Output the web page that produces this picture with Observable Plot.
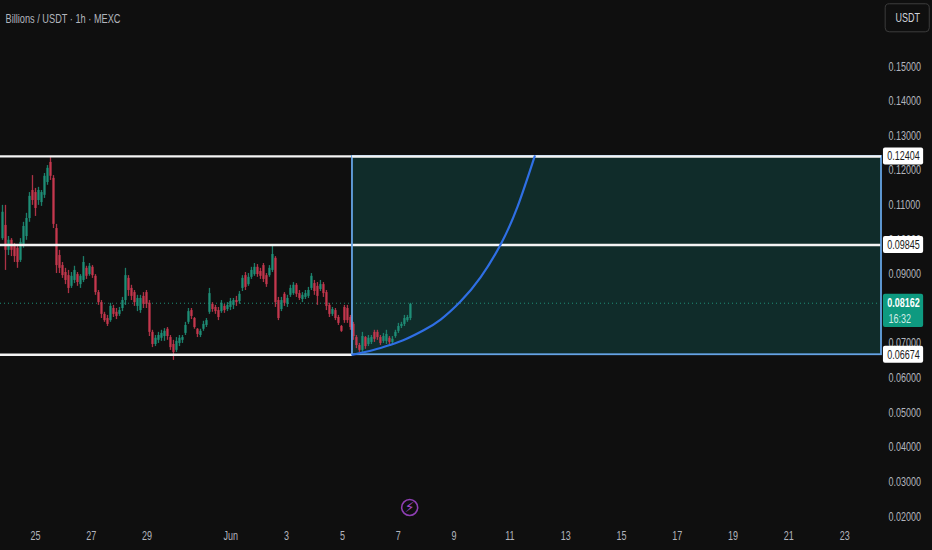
<!DOCTYPE html>
<html>
<head>
<meta charset="utf-8">
<script src="https://cdn.jsdelivr.net/npm/d3@7"></script>
<script src="https://cdn.jsdelivr.net/npm/@observablehq/plot@0.6"></script>
<style>
html,body{margin:0;padding:0;background:#0f0f0f;}
svg{display:block;}
</style>
</head>
<body>
<div id="chart"></div>
<script>
// hourly-ish candles, prices in units of 0.0001 USDT
const highsE4 = [1099,1099,1009,1003,989,983,1003,1050,1076,1136,1185,1148,1151,1142,1191,1214,1237,1185,1044,969,934,917,911,905,923,905,899,951,923,931,925,899,853,824,790,781,816,810,801,804,833,917,896,868,853,839,839,847,853,824,738,723,732,738,743,746,723,709,717,723,723,761,801,801,775,743,741,764,772,859,818,810,804,824,813,818,830,830,836,850,896,905,902,920,931,928,917,931,902,925,986,951,833,833,847,839,868,876,873,853,847,853,862,902,882,876,882,876,853,816,804,801,781,752,810,810,781,761,723,700,732,720,723,723,738,738,723,729,738,720,720,738,758,761,781,781,816];
const lowsE4 = [998,911,954,951,934,917,934,975,998,1050,1099,1067,1099,1096,1119,1157,1171,1032,902,902,888,870,844,859,873,865,859,876,885,894,888,839,810,772,761,749,761,775,769,778,792,810,836,824,807,792,787,801,801,720,688,691,700,706,706,709,680,651,674,691,700,723,755,769,741,717,717,735,746,784,790,784,766,787,787,792,795,798,807,813,850,853,865,885,894,891,885,876,862,891,905,804,766,792,807,804,833,839,833,824,818,827,830,853,839,810,850,833,795,775,778,766,752,732,758,758,738,709,685,674,674,683,691,697,703,709,694,700,697,697,697,715,729,743,749,761,766];
const opensE4 = [1003,1041,969,998,980,975,940,983,1009,1061,1142,1136,1113,1107,1128,1165,1223,1177,1032,954,925,905,896,865,882,899,870,882,917,899,920,894,847,818,784,772,766,801,790,784,801,824,888,859,847,807,795,836,847,816,732,697,709,715,720,741,717,697,680,700,709,729,761,795,772,741,723,741,752,790,813,804,795,792,807,798,804,810,824,821,859,896,870,891,899,920,908,925,896,896,911,946,824,798,842,813,839,844,868,844,827,833,836,859,873,865,856,870,847,810,784,795,775,749,804,801,775,755,717,694,680,717,697,703,732,732,717,706,706,715,703,720,735,749,755,766,772];
const closesE4 = [1079,969,998,969,951,934,992,1038,1061,1125,1113,1090,1142,1136,1183,1206,1183,1044,925,917,896,882,859,894,911,876,894,934,894,923,896,847,818,784,766,755,807,784,778,795,824,896,853,836,818,830,830,813,813,732,697,715,723,729,735,720,688,674,706,715,717,752,792,778,746,726,735,755,766,844,798,792,775,816,795,810,821,824,818,842,888,862,891,911,920,899,894,885,870,917,957,818,772,824,816,830,859,868,842,830,839,844,853,894,850,836,870,844,807,784,798,772,758,735,766,766,746,720,694,680,720,691,715,717,712,717,700,720,726,703,712,732,749,755,772,775,813];

const firstCandleDay = -1.183;      // days after 25 May
const candleStepDays = 0.1075;

// drawn price levels
const levels = [0.12404, 0.09845, 0.06674];
const levelLabels = ["0.12404", "0.09845", "0.06674"];
const lastPrice = 0.08162;
const lastPriceLabel = "0.08162";
const countdownLabel = "16:32";

// curved projection (days after 25 May, price)
const curveDays = [11.36, 12.11, 12.72, 13.26, 13.91, 14.52, 15.23, 15.95, 16.67, 17.28, 17.89];
const curvePrices = [0.06674, 0.0681, 0.0696, 0.0712, 0.0738, 0.0769, 0.0821, 0.0891, 0.0986, 0.1096, 0.12404];

// axes (0.08000 sits fully behind the last-price badge in the reference)
const yTicks = [0.02,0.03,0.04,0.05,0.06,0.07,0.09,0.10,0.11,0.12,0.13,0.14,0.15];
const xTickDays = [0,2,4,7,9,11,13,15,17,19,21,23,25,27,29];
const xTickLabels = ["25","27","29","Jun","3","5","7","9","11","13","15","17","19","21","23"];

const title = "Billions / USDT · 1h · MEXC";
const unitLabel = "USDT";

const base = Date.UTC(2025, 4, 25);
const day = d => new Date(base + d * 864e5);

const candles = highsE4.map((h, i) => ({
  t: day(firstCandleDay + i * candleStepDays),
  high: h / 1e4, low: lowsE4[i] / 1e4, open: opensE4[i] / 1e4, close: closesE4[i] / 1e4,
  up: closesE4[i] >= opensE4[i]
}));
const curve = curveDays.map((d, i) => ({t: day(d), p: curvePrices[i]}));

const UP = "#1f9079", DOWN = "#c8384f", TXT = "#b2b5bd", BLUE = "#65a3e4";
const boxStart = day(11.36), domainEnd = day(30.32);
const labelFont = "'Liberation Sans',sans-serif";
const tickX = new Map(xTickDays.map((d, i) => [+day(d), xTickLabels[i]]));

const chart = Plot.plot({
  width: 932, height: 550,
  marginTop: 0, marginLeft: 0, marginRight: 51, marginBottom: 34,
  style: {background: "#0f0f0f", fontFamily: labelFont, color: TXT, overflow: "visible"},
  x: {type: "utc", domain: [day(-1.2545), domainEnd]},
  y: {type: "linear", domain: [0.02, 0.16909]},
  marks: [
    // projection box
    Plot.rect([0], {x1: boxStart, x2: domainEnd, y1: levels[2], y2: levels[0], fill: "#102c2a"}),
    // last price dotted line
    Plot.ruleY([lastPrice], {stroke: "#1f8f78", strokeWidth: 1, strokeDasharray: "1,3"}),
    // candles
    Plot.ruleX(candles, {x: "t", y1: "low", y2: "high", stroke: d => d.up ? UP : DOWN, strokeWidth: 1.3, strokeOpacity: 0.85}),
    Plot.ruleX(candles, {x: "t", y1: "open", y2: "close", stroke: d => d.up ? UP : DOWN, strokeWidth: 2.4, strokeOpacity: 0.85}),
    // levels
    Plot.ruleY(levels.slice(0, 2), {stroke: "#f4f4f4", strokeWidth: 2.4}),
    Plot.ruleY([levels[2]], {x1: day(-1.2545), x2: boxStart, stroke: "#f4f4f4", strokeWidth: 2.4}),
    Plot.rect([0], {x1: boxStart, x2: domainEnd, y1: levels[2], y2: levels[0], fill: "none", stroke: BLUE, strokeWidth: 1.8}),
    Plot.ruleY([levels[0]], {x1: boxStart, x2: domainEnd, stroke: "#f4f4f4", strokeWidth: 2.4}),
    // projection curve
    Plot.line(curve, {x: "t", y: "p", stroke: "#2f6fe4", strokeWidth: 2.2, curve: "natural"}),
    // axes
    Plot.axisY({anchor: "right", ticks: yTicks, tickSize: 0, tickPadding: 7, tickFormat: d3.format(".5f"), fill: TXT, fontSize: 12.5, label: null}),
    Plot.axisX({ticks: xTickDays.map(day), tickSize: 0, tickPadding: 15, tickFormat: d => tickX.get(+d), fill: TXT, fontSize: 12.5, label: null}),
    // level badges
    Plot.rect(levels, {x1: day(30.39), x2: day(31.83), y1: d => d - 0.00245, y2: d => d + 0.00245, fill: "#ffffff", rx: 2}),
    Plot.text(levels, {x: day(31.11), y: d => d, text: (d, i) => levelLabels[i], fill: "#1a1a1a", fontSize: 12.5}),
    // last price badge
    Plot.rect([0], {x1: day(30.39), x2: day(31.83), y1: 0.0746, y2: 0.0842, fill: "#0e9a80", rx: 2}),
    Plot.text([lastPriceLabel], {x: day(31.11), y: lastPrice, fill: "#ffffff", fontSize: 12.5, fontWeight: "bold"}),
    Plot.text([countdownLabel], {x: day(30.57), y: 0.0772, textAnchor: "start", fill: "#cfece6", fontSize: 12.5}),
    // unit button
    Plot.rect([0], {x1: day(30.47), x2: day(32.05), y1: 0.1599, y2: 0.168, fill: "none", stroke: "#3c3c3c", strokeWidth: 1, rx: 4}),
    Plot.text([unitLabel], {x: day(31.26), y: 0.164, fill: "#d1d4dc", fontSize: 12.5}),
    // header
    Plot.text([title], {frameAnchor: "top-left", dx: 5, dy: 18, textAnchor: "start", lineAnchor: "middle", fill: TXT, fontSize: 13}),
    // idea marker
    Plot.dot([0], {x: day(13.41), y: 0.0226, r: 8, stroke: "#8e3fb3", strokeWidth: 1.6, fill: "none"}),
    Plot.text(["⚡"], {x: day(13.41), y: 0.0226, fill: "#a24acb", fontSize: 14, fontFamily: "'DejaVu Sans',sans-serif"})
  ]
});
document.getElementById("chart").append(chart);

// the reference uses a condensed face: narrow the text to the same widths
chart.querySelectorAll("text").forEach(t => {
  if (t.textContent === "⚡") return;
  const w = t.getComputedTextLength();
  const target = t.textContent === title ? 115 : w * 0.72;
  t.setAttribute("textLength", target);
  t.setAttribute("lengthAdjust", "spacingAndGlyphs");
});
</script>
</body>
</html>
